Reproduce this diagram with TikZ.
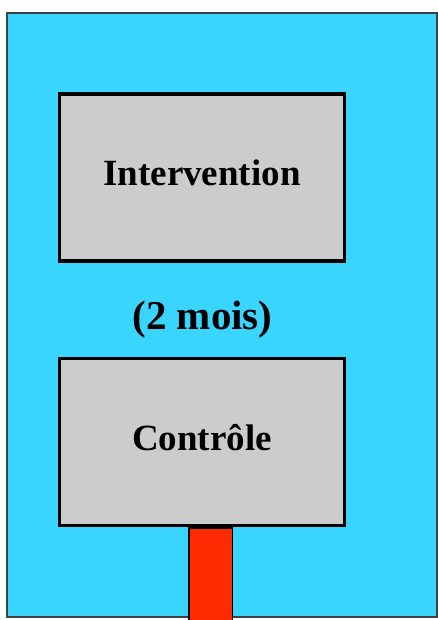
\documentclass[tikz,border=0pt]{standalone}
\usepackage{fontspec}
\setmainfont{Liberation Serif}
\usepackage{tikz}
\usetikzlibrary{positioning}
\definecolor{fond}{RGB}{58,213,255}
\definecolor{gris}{RGB}{204,204,204}
\definecolor{rouge}{RGB}{255,42,0}

\begin{document}
\begin{tikzpicture}[x=1pt, y=1pt, node distance=94pt,
  main box/.style={rectangle,draw,line width=3.5pt,fill=gris,
    minimum width=285pt,minimum height=167pt,
    text height=26pt,text depth=10pt,
    font=\fontsize{37}{44}\selectfont\bfseries},
  bar node/.style={rectangle,draw,line width=1.5pt,fill=rouge,
    minimum width=43.5pt,minimum height=96pt,inner sep=0pt}]

\useasboundingbox (0,0) rectangle (438,-620);
\draw[fill=fond, draw=black!75, line width=1.5pt] (7,-13) rectangle (437,-617);

\node[main box] (I) at (202,-177.5) {Intervention};
\node[main box] (C) [below=of I] {Contrôle};
\node[font=\fontsize{41}{48}\selectfont\bfseries] (D) at (202.5,-320) {(2 mois)};

\node[bar node] (R) [below=0pt of C, xshift=8.5pt] {};
\end{tikzpicture}
\end{document}
